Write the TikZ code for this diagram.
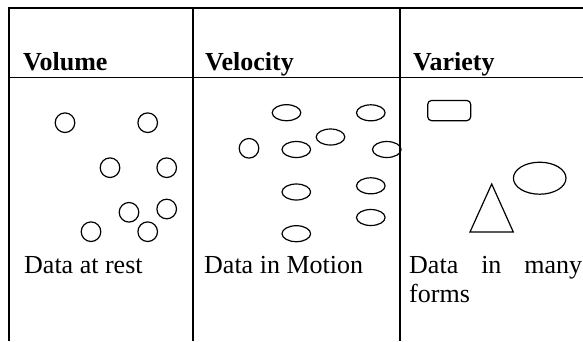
\documentclass[tikz,border=0pt]{standalone}
\usepackage{fontspec}
\setmainfont{Liberation Serif}
\begin{document}
\begin{tikzpicture}[x=1pt,y=-1pt,
  grid/.style={line width=1.6pt},
  shp/.style={line width=1.2pt},
  hdr/.style={anchor=base west,inner sep=0pt,font=\fontsize{26}{29}\selectfont\bfseries},
  body/.style={anchor=base west,inner sep=0pt,font=\fontsize{26}{29}\selectfont}]
\useasboundingbox (0,0) rectangle (583,341);
\fill[white] (0,0) rectangle (583,341);
% table lines
\draw[grid] (8,8) -- (583,8);
\draw[grid] (8,77.3) -- (583,77.3);
\draw[grid] (8.8,8) -- (8.8,341);
\draw[grid] (192.7,8) -- (192.7,341);
\draw[grid] (400,8) -- (400,341);
% headers
\node[hdr] (h1) at (23,70.6) {Volume};
\node[hdr] (h2) at (205,70.6) {Velocity};
\node[hdr] (h3) at (413,70.6) {Variety};
% body texts
\node[body] (b1) at (24,273.5) {Data at rest};
\node[body] (b2) at (204,273.5) {Data in Motion};
\node[body] (b3) at (409,273.5) {\makebox[173pt][s]{Data in many}};
\node[body] (b4) at (409,302.5) {forms};
% volume circles
\foreach \p in {(65,122.7),(147.7,122.7),(110,167.7),(166.7,167.7),(129,212.3),(166.7,209),(91,231.7),(147.7,231.7)}
  \draw[shp] \p circle [radius=9.8];
% velocity
\draw[shp] (249,148.3) circle [radius=9.8];
\foreach \p in {(286.5,112.7),(370.8,112.8),(330.5,137),(296.3,149.5),(386.8,149.5),(296.3,192),(370.8,185.8),(370.8,217.5),(296.3,233.7)}
  \draw[shp] \p ellipse [x radius=14.3, y radius=8];
% variety
\draw[shp,rounded corners=4pt] (427.7,100.4) rectangle (470.7,120.7);
\draw[shp] (539.7,178.2) ellipse [x radius=26.3, y radius=16];
\draw[shp] (491.7,184) -- (470,232) -- (513.3,232) -- cycle;
\end{tikzpicture}
\end{document}
